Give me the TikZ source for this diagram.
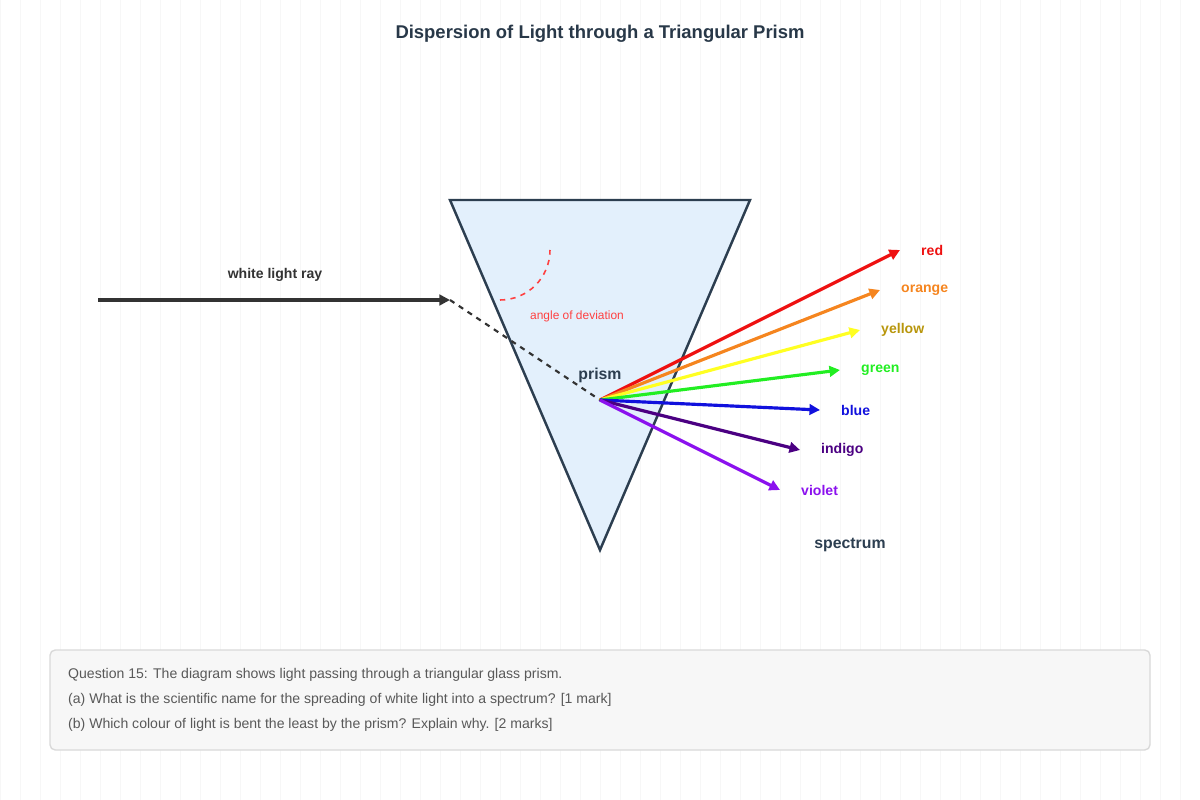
\documentclass[tikz,border=0pt]{standalone}
\usepackage{fontspec}
\setmainfont{Liberation Sans}
\usetikzlibrary{arrows.meta}
\definecolor{ink}{HTML}{2C3E50}
\definecolor{glass}{HTML}{E3F0FC}
\definecolor{redray}{HTML}{EE1111}
\definecolor{orangeray}{HTML}{F5851F}
\definecolor{yellowray}{HTML}{FFFF22}
\definecolor{yellowtxt}{HTML}{B8960C}
\definecolor{greenray}{HTML}{22EE22}
\definecolor{blueray}{HTML}{1111DD}
\definecolor{indigoray}{HTML}{4B0082}
\definecolor{violetray}{HTML}{8B11EE}
\tikzset{
  ray/.style={line width=1.8pt,-{Triangle[length=6pt,width=6pt]}},
  lbl/.style={font=\fontsize{8}{10}\selectfont\bfseries,anchor=west},
}
\begin{document}
\begin{tikzpicture}[x=0.02cm,y=-0.02cm]
		\useasboundingbox (0,0) rectangle (1200,800);
		% grid
		\draw[black!3,line width=0.3pt] (0,0) grid[step=20] (1200,800);
		\node[font=\fontsize{10.5}{12}\selectfont\bfseries,text=ink!90!black] (title) at (600,34) {Dispersion of Light through a Triangular Prism};
		
		% prism
		\draw[ink,line width=1.4pt,fill=glass] (450,200) -- (750,200) -- (600,550) -- cycle;
		\node[font=\fontsize{9}{11}\selectfont\bfseries,text=ink] (prism) at (600,375) {prism};
		
		% incoming ray
		\coordinate (src) at (98,300);
		\coordinate (entry) at (450,300);
		\coordinate (hit) at (600,400);
		\draw[black!80,line width=1.8pt,-{Triangle[length=6pt,width=6pt]}] (src) -- (entry);
		\draw[black!80,line width=1.2pt,dashed] (entry) -- (hit);
		\node[font=\fontsize{8}{10}\selectfont\bfseries,text=black!80] (white) at (275,275) {white light ray};
		
		% angle
		\draw[red!75,line width=0.9pt,dashed] (500,300) arc[start angle=90,end angle=0,radius=50];
		\node[font=\fontsize{6.8}{8}\selectfont,text=red!75] (angle) at (577,316) {angle of deviation};
		
		% spectrum
		\foreach \name/\col/\txt/\ex/\ey in {red/redray/redray/900/250,orange/orangeray/orangeray/880/290,yellow/yellowray/yellowtxt/860/330,green/greenray/greenray/840/370,blue/blueray/blueray/820/410,indigo/indigoray/indigoray/800/450,violet/violetray/violetray/780/490}{
			\coordinate (\name) at (\ex,\ey);
			\draw[ray,\col] (hit) -- (\name);
			\node[lbl,text=\txt] at (\ex+15,\ey) {\name};
		}
		\node[font=\fontsize{9}{11}\selectfont\bfseries,text=ink] (spectrum) at (850,545) {spectrum};
		
		% question
		\draw[black!15,line width=0.8pt,fill=black!3,rounded corners=3pt] (50,650) rectangle (1150,750);
		\begin{scope}[font=\fontsize{8}{10}\selectfont,text=black!65]
		\node[anchor=west] (q1) at (62,675) {Question 15: The diagram shows light passing through a triangular glass prism.};
		\node[anchor=west] (q2) at (62,700) {(a) What is the scientific name for the spreading of white light into a spectrum? [1 mark]};
		\node[anchor=west] (q3) at (62,725) {(b) Which colour of light is bent the least by the prism? Explain why. [2 marks]};
		\end{scope}
	\end{tikzpicture}
\end{document}
